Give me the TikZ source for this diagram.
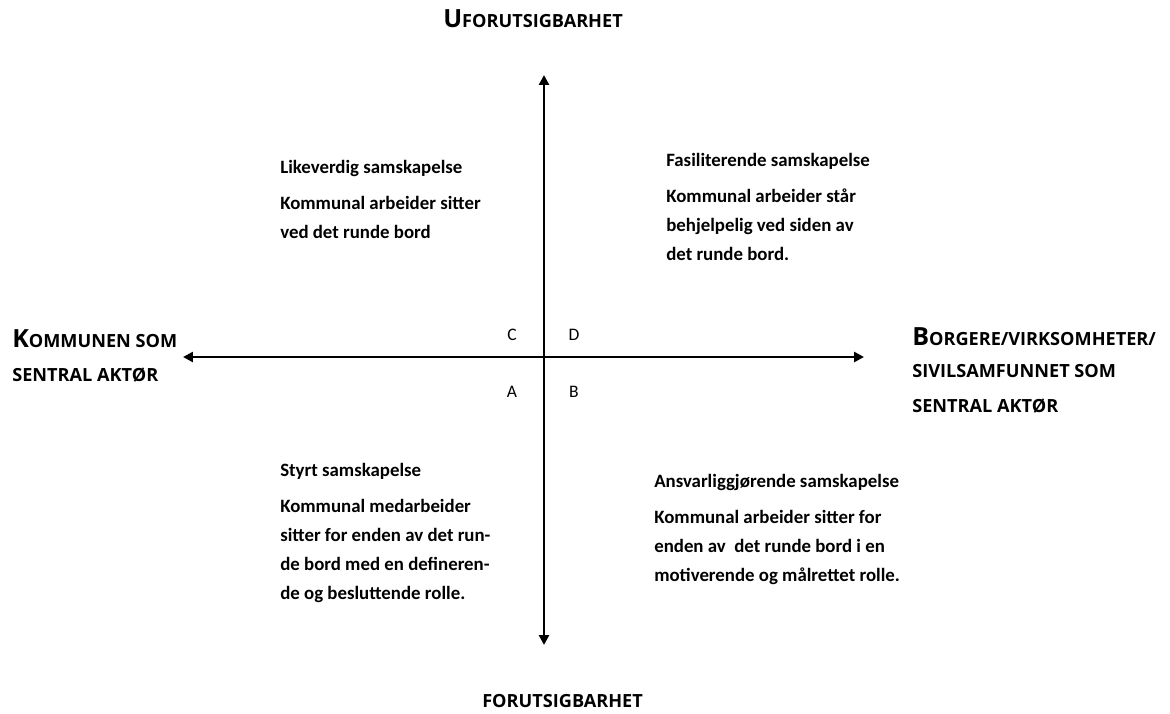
\documentclass[tikz,border=0pt]{standalone}
\usepackage{fontspec}
\setmainfont{Carlito}
\newfontfamily\headfont{Open Sans}
\usetikzlibrary{arrows.meta,positioning}

% small caps, set by hand
\newcommand{\capbig}[1]{{\fontsize{17.8}{17.8}\selectfont #1}}
\newcommand{\capsmall}[1]{{\fontsize{12.9}{12.9}\selectfont #1}}

\begin{document}
\begin{tikzpicture}[x=0.025cm, y=-0.025cm,
    every node/.style={font=\fontsize{13.4}{20.6}\selectfont\bfseries},
    axis/.style={line width=2pt, {Triangle[length=7pt,width=7pt]}-{Triangle[length=7pt,width=7pt]}},
    quadtext/.style={anchor=north west, align=left, inner sep=0pt},
    caption/.style={anchor=base west, inner sep=0pt, font=\headfont\bfseries},
    letter/.style={inner sep=0pt, font=\fontsize{12.5}{14}\selectfont}]
  \useasboundingbox (0,0) rectangle (1170,713);
  % --- axes ---
  \coordinate (top)    at (544,75);
  \coordinate (bottom) at (544,645);
  \coordinate (west)   at (183,357);
  \coordinate (east)   at (864,357);
  \draw[axis] (west) -- (east);
  \draw[axis] (bottom) -- (top);
  % --- axis captions ---
  \node[caption] (unpred) at (443,27) {\capbig{U}\capsmall{FORUTSIGBARHET}};
  \node[caption] (pred)   at (482,707) {\capsmall{FORUTSIGBARHET}};
  \node[caption] (muni1)  at (12,347) {\capbig{K}\capsmall{OMMUNEN SOM}};
  \node[caption] (muni2)  at (12,381) {\capsmall{SENTRAL AKTØR}};
  \node[caption] (civ1)   at (912,345) {\capbig{B}\capsmall{ORGERE/VIRKSOMHETER/}};
  \node[caption] (civ2)   at (912,377) {\capsmall{SIVILSAMFUNNET SOM}};
  \node[caption] (civ3)   at (912,412) {\capsmall{SENTRAL AKTØR}};
  % --- quadrant letters ---
  \node[letter] (qc) at (512,335) {C};
  \node[letter] (qd) at (574,335) {D};
  \node[letter] (qa) at (512,392) {A};
  \node[letter] (qb) at (574,392) {B};
  % --- quadrant texts ---
  \node[quadtext] (likeverdig) at (280,160) {Likeverdig samskapelse\\[5pt]
    Kommunal arbeider sitter\\ ved det runde bord};
  \node[quadtext] (fasiliterende) at (666,153) {Fasiliterende samskapelse\\[5pt]
    Kommunal arbeider står\\ behjelpelig ved siden av\\ det runde bord.};
  \node[quadtext] (styrt) at (280,463) {Styrt samskapelse\\[5pt]
    Kommunal medarbeider\\ sitter for enden av det run-\\ de bord med en defineren-\\
    de og besluttende rolle.};
  \node[quadtext] (ansvar) at (654,474) {Ansvarliggjørende samskapelse\\[5pt]
    Kommunal arbeider sitter for\\ enden av\ \ det runde bord i en\\
    motiverende og målrettet rolle.};
\end{tikzpicture}
\end{document}
